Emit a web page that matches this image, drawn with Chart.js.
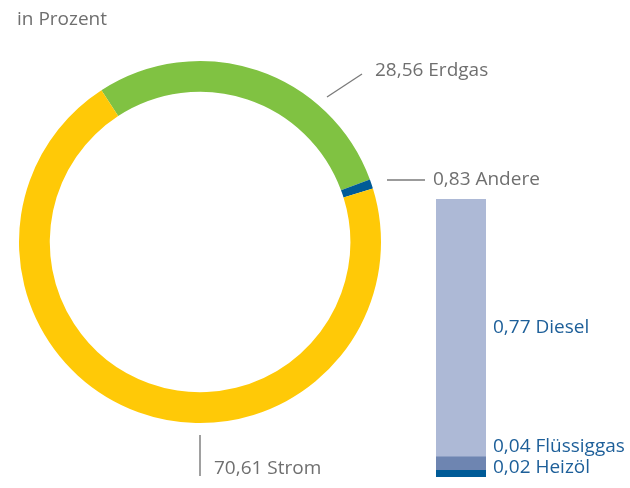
<!DOCTYPE html>
<html>
<head>
<meta charset="utf-8">
<script src="https://cdn.jsdelivr.net/npm/chart.js@4.4.0/dist/chart.umd.min.js"></script>
<style>
  html, body { margin: 0; padding: 0; background: #fff; }
  #wrap { position: relative; width: 630px; height: 488px; }
  #wrap canvas { position: absolute; left: 0; top: 0; }
</style>
</head>
<body>
<div id="wrap">
  <canvas id="ring" width="630" height="488"></canvas>
  <canvas id="bar" width="630" height="488"></canvas>
</div>
<script>
// ring data (share of total, in percent)
const ringLabels = ['Erdgas', 'Andere', 'Strom'];
const ringValues = [28.56, 0.83, 70.61];
const ringColors = ['#80c242', '#005b97', '#ffc907'];

// breakdown of "Andere"
const barLabels = ['Heizöl', 'Flüssiggas', 'Diesel'];
const barValues = [0.02, 0.04, 0.77];
const barColors = ['#005b97', '#6e85b1', '#adb9d6'];

const fmt = v => v.toFixed(2).replace('.', ',');
const FONT = '19px "Open Sans", sans-serif';
const GREY = '#6f6f6f';
const BLUE = '#1d5f99';

function line(ctx, x1, y1, x2, y2) {
    ctx.beginPath();
    ctx.moveTo(x1, y1);
    ctx.lineTo(x2, y2);
    ctx.stroke();
}

// --- ring labels and title ---
const ringText = {
    id: 'ringText',
    afterDraw(chart) {
        const ctx = chart.ctx;
        ctx.save();
        ctx.font = FONT;
        ctx.fillStyle = GREY;
        ctx.textBaseline = 'middle';
        ctx.fillText('in Prozent', 17, 20);

        ctx.strokeStyle = '#7a7a7a';
        ctx.lineWidth = 1.3;
        line(ctx, 327, 97, 362, 74);
        ctx.fillText(fmt(ringValues[0]) + ' ' + ringLabels[0], 375, 71);

        line(ctx, 387, 180, 425, 180);
        ctx.fillText(fmt(ringValues[1]) + ' ' + ringLabels[1], 433, 180);

        ctx.strokeStyle = '#a0a0a0';
        ctx.lineWidth = 2;
        line(ctx, 200, 435, 200, 476);
        ctx.fillText(fmt(ringValues[2]) + ' ' + ringLabels[2], 214, 469);
        ctx.restore();
    }
};

new Chart(document.getElementById('ring'), {
    type: 'doughnut',
    data: {
        labels: ringLabels,
        datasets: [{
            data: ringValues,
            backgroundColor: ringColors,
            borderWidth: 0
        }]
    },
    options: {
        responsive: false,
        animation: false,
        rotation: -33,
        cutout: '83%',
        layout: { padding: { left: 19, top: 61, right: 249, bottom: 65 } },
        plugins: { legend: { display: false }, tooltip: { enabled: false } }
    },
    plugins: [ringText]
});

// --- stacked bar labels ---
const barText = {
    id: 'barText',
    afterDraw(chart) {
        const ctx = chart.ctx;
        const x = chart.chartArea.right + 7;
        ctx.save();
        ctx.font = FONT;
        ctx.fillStyle = BLUE;
        ctx.textBaseline = 'middle';
        const top = chart.getDatasetMeta(2).data[0];
        ctx.fillText(fmt(barValues[2]) + ' ' + barLabels[2], x, (top.y + top.base) / 2);
        ctx.fillText(fmt(barValues[1]) + ' ' + barLabels[1], x, 447);
        ctx.fillText(fmt(barValues[0]) + ' ' + barLabels[0], x, 468);
        ctx.restore();
    }
};

new Chart(document.getElementById('bar'), {
    type: 'bar',
    data: {
        labels: ['Andere'],
        datasets: barValues.map((v, i) => ({
            label: barLabels[i],
            data: [v],
            backgroundColor: barColors[i],
            borderWidth: 0,
            barPercentage: 1,
            categoryPercentage: 1
        }))
    },
    options: {
        responsive: false,
        animation: false,
        layout: { padding: { left: 436, top: 199, right: 144, bottom: 11 } },
        scales: {
            x: { stacked: true, display: false },
            y: { stacked: true, display: false, min: 0, max: 0.83 }
        },
        plugins: { legend: { display: false }, tooltip: { enabled: false } }
    },
    plugins: [barText]
});
</script>
</body>
</html>
